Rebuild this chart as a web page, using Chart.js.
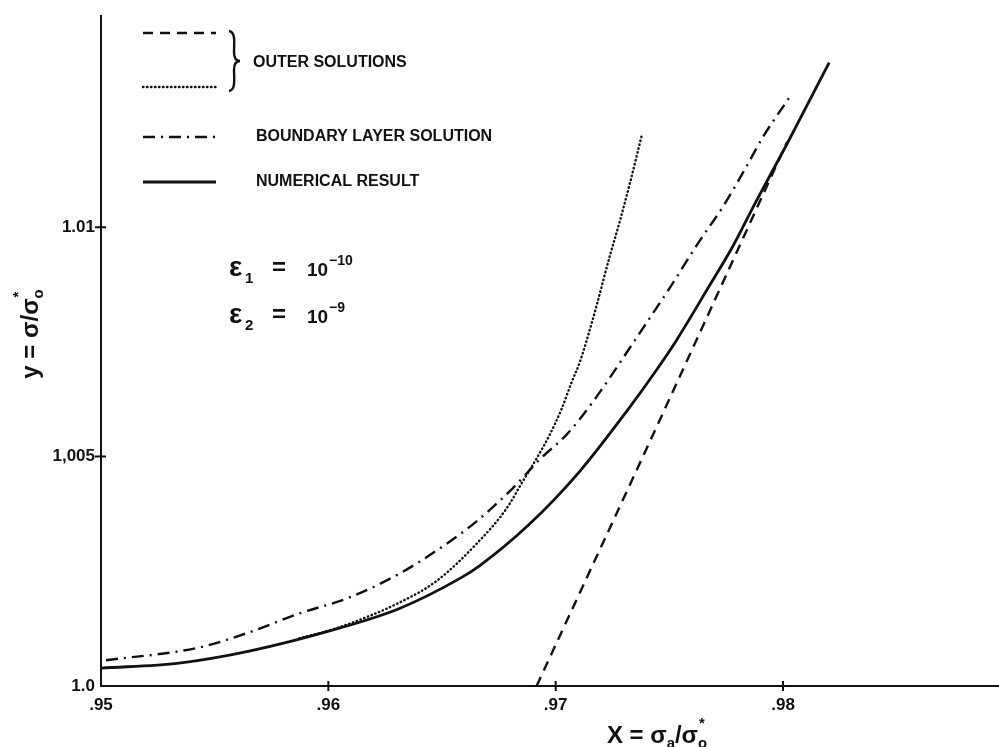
<!DOCTYPE html>
<html lang="en">
<head>
<meta charset="UTF-8">
<title>Outer solutions vs numerical result</title>
<script src="https://cdn.jsdelivr.net/npm/chart.js@4.4.0/dist/chart.umd.min.js"></script>
<style>
  html, body { margin: 0; padding: 0; background: #fff; }
</style>
</head>
<body>
<canvas id="myChart" width="999" height="747"></canvas>
<script>
// numerical result (solid)
const numX = [0.9500, 0.95344, 0.95652, 0.96048, 0.96313, 0.96577, 0.96665, 0.96885, 0.97106,
              0.97317, 0.97445, 0.97533, 0.97678, 0.97780, 0.97877, 0.98018, 0.98203];
const numY = [1.00039, 1.00050, 1.00076, 1.00126, 1.00169, 1.00234, 1.00262, 1.00353, 1.00468,
              1.00602, 1.00690, 1.00755, 1.00874, 1.00959, 1.01052, 1.01182, 1.01359];

// outer solution 1 (dashed)
const outer1X = [0.96916, 0.97458, 0.98018];
const outer1Y = [1.00000, 1.00580, 1.01186];

// outer solution 2 (dotted)
const outer2X = [0.95872, 0.96048, 0.96313, 0.96476, 0.96652, 0.96784, 0.96855, 0.96916, 0.96974,
                 0.97026, 0.97070, 0.97106, 0.97163, 0.97238, 0.97282, 0.97326, 0.97379];
const outer2Y = [1.00104, 1.00128, 1.00182, 1.00229, 1.00310, 1.00387, 1.00446, 1.00496, 1.00548,
                 1.00604, 1.00662, 1.00706, 1.00799, 1.00937, 1.01013, 1.01095, 1.01201];

// boundary layer solution (dash-dot)
const blX = [0.95022, 0.95432, 0.95652, 0.95872, 0.96093, 0.96313, 0.96520, 0.96652, 0.96811, 0.96930,
             0.97048, 0.97163, 0.97357, 0.97502, 0.97626, 0.97736, 0.97841, 0.97912, 0.98035];
const blY = [1.00056, 1.00084, 1.00117, 1.00158, 1.00193, 1.00245, 1.00310, 1.00359, 1.00431, 1.00494,
             1.00548, 1.00619, 1.00760, 1.00868, 1.00965, 1.01045, 1.01134, 1.01197, 1.01288];

const xTicks = [0.95, 0.96, 0.97, 0.98];
const xTickLabels = ['.95', '.96', '.97', '.98'];
const yTicks = [1.0, 1.005, 1.01];
const yTickLabels = ['1.0', '1,005', '1.01'];

const xMin = 0.95, xMax = 0.9895;
const yMin = 1.0, yMax = 1.0146;

const ink = '#111';
Chart.defaults.font.family = '"Liberation Sans", Arial, sans-serif';
Chart.defaults.color = ink;

function pts(xs, ys) { return xs.map((x, i) => ({ x: x, y: ys[i] })); }

// draws text made of normal / subscript / superscript pieces
function richText(ctx, segs, x, y, size) {
  const f = s => 'bold ' + s + 'px "Liberation Sans", Arial, sans-serif';
  let w = 0;
  segs.forEach(s => {
    ctx.font = f(s.small ? size * 0.62 : size);
    s.w = ctx.measureText(s.t).width;
    if (s.sup) s.w = Math.max(s.w, ctx.measureText(s.sup).width);
    w += s.w;
  });
  let cx = x - w / 2;
  segs.forEach(s => {
    if (s.small) {
      ctx.font = f(size * 0.62);
      ctx.fillText(s.t, cx, y + size * 0.22);
      if (s.sup) ctx.fillText(s.sup, cx + 1, y - size * 0.62);
    } else {
      ctx.font = f(size);
      ctx.fillText(s.t, cx, y);
    }
    cx += s.w;
  });
}

const decor = {
  id: 'decor',
  afterDraw(chart) {
    const ctx = chart.ctx;
    const a = chart.chartArea;
    const sx = chart.scales.x, sy = chart.scales.y;
    ctx.save();
    ctx.strokeStyle = ink;
    ctx.fillStyle = ink;
    ctx.lineWidth = 2;

    // small cross ticks on the axes
    ctx.beginPath();
    yTicks.forEach(v => {
      if (v === yMin) return;
      const p = sy.getPixelForValue(v);
      ctx.moveTo(a.left - 6, p); ctx.lineTo(a.left + 5, p);
    });
    xTicks.forEach(v => {
      if (v === xMin) return;
      const p = sx.getPixelForValue(v);
      ctx.moveTo(p, a.bottom - 5); ctx.lineTo(p, a.bottom + 5);
    });
    ctx.stroke();

    // legend samples
    const samples = [
      { y: 33, dash: [10, 7], w: 2.4, cap: 'butt' },
      { y: 87, dash: [0.5, 3.5], w: 2.4, cap: 'round' },
      { y: 137, dash: [12, 6, 2, 6], w: 2.4, cap: 'butt' },
      { y: 182, dash: [], w: 2.8, cap: 'butt' }
    ];
    samples.forEach(s => {
      ctx.beginPath();
      ctx.setLineDash(s.dash);
      ctx.lineCap = s.cap;
      ctx.lineWidth = s.w;
      ctx.moveTo(143, s.y); ctx.lineTo(216, s.y);
      ctx.stroke();
    });
    ctx.setLineDash([]);
    ctx.lineCap = 'butt';

    // brace grouping the two outer solutions
    ctx.lineWidth = 2.4;
    ctx.beginPath();
    ctx.moveTo(229, 31);
    ctx.bezierCurveTo(236, 32, 234, 44, 234, 52);
    ctx.bezierCurveTo(234, 58, 236, 61, 240, 61);
    ctx.bezierCurveTo(236, 61, 234, 64, 234, 70);
    ctx.bezierCurveTo(234, 78, 236, 90, 229, 91);
    ctx.stroke();

    ctx.font = 'bold 16px "Liberation Sans", Arial, sans-serif';
    ctx.textBaseline = 'middle';
    ctx.textAlign = 'left';
    ctx.fillText('OUTER SOLUTIONS', 253, 63);
    ctx.fillText('BOUNDARY LAYER SOLUTION', 256, 137);
    ctx.fillText('NUMERICAL RESULT', 256, 182);

    // epsilon values
    ctx.textBaseline = 'alphabetic';
    const eps = [['1', '\u221210', 276], ['2', '\u22129', 323]];
    eps.forEach(e => {
      const base = e[2];
      ctx.font = 'bold 28px "Liberation Sans", Arial, sans-serif';
      ctx.fillText('\u03b5', 229, base);
      ctx.font = 'bold 15px "Liberation Sans", Arial, sans-serif';
      ctx.fillText(e[0], 245, base + 7);
      ctx.font = 'bold 24px "Liberation Sans", Arial, sans-serif';
      ctx.fillText('=', 272, base - 1);
      ctx.font = 'bold 19px "Liberation Sans", Arial, sans-serif';
      ctx.fillText('10', 307, base);
      ctx.font = 'bold 14px "Liberation Sans", Arial, sans-serif';
      ctx.fillText(e[1], 329, base - 11);
    });

    // axis titles
    richText(ctx, [{ t: 'X = \u03c3' }, { t: 'a', small: true }, { t: '/\u03c3' }, { t: 'o', small: true, sup: '*' }],
      657, 743, 24);
    ctx.translate(38, 334);
    ctx.rotate(-Math.PI / 2);
    richText(ctx, [{ t: 'y = \u03c3/\u03c3' }, { t: 'o', small: true, sup: '*' }], 0, 0, 24);
    ctx.restore();
  }
};

const config = {
  type: 'line',
  data: {
    datasets: [
      { label: 'Numerical result', data: pts(numX, numY), borderColor: ink, borderWidth: 2.8 },
      { label: 'Outer solution', data: pts(outer1X, outer1Y), borderColor: ink, borderWidth: 2.4, borderDash: [10, 7] },
      { label: 'Outer solution', data: pts(outer2X, outer2Y), borderColor: ink, borderWidth: 2.4,
        borderDash: [0.5, 3.5], borderCapStyle: 'round' },
      { label: 'Boundary layer solution', data: pts(blX, blY), borderColor: ink, borderWidth: 2.4,
        borderDash: [12, 6, 2, 6] }
    ]
  },
  options: {
    responsive: false,
    animation: false,
    parsing: false,
    elements: {
      point: { radius: 0 },
      line: { cubicInterpolationMode: 'monotone', fill: false }
    },
    layout: { padding: { top: 10, right: 0, left: 0, bottom: 0 } },
    plugins: { legend: { display: false }, tooltip: { enabled: false } },
    scales: {
      x: {
        type: 'linear',
        min: xMin, max: xMax,
        grid: { display: false, drawTicks: false },
        border: { display: true, color: ink, width: 2 },
        afterBuildTicks: s => { s.ticks = xTicks.map(v => ({ value: v })); },
        afterFit: s => { s.height = 61; },
        ticks: {
          padding: 9,
          maxRotation: 0,
          font: { size: 17, weight: 'bold' },
          color: ink,
          callback: (v, i) => xTickLabels[i]
        }
      },
      y: {
        type: 'linear',
        min: yMin, max: yMax,
        grid: { display: false, drawTicks: false },
        border: { display: true, color: ink, width: 2 },
        afterBuildTicks: s => { s.ticks = yTicks.map(v => ({ value: v })); },
        afterFit: s => { s.width = 101; },
        ticks: {
          padding: 6,
          font: { size: 17, weight: 'bold' },
          color: ink,
          callback: (v, i) => yTickLabels[i]
        }
      }
    }
  },
  plugins: [decor]
};

const myChart = new Chart(document.getElementById('myChart'), config);
</script>
</body>
</html>
